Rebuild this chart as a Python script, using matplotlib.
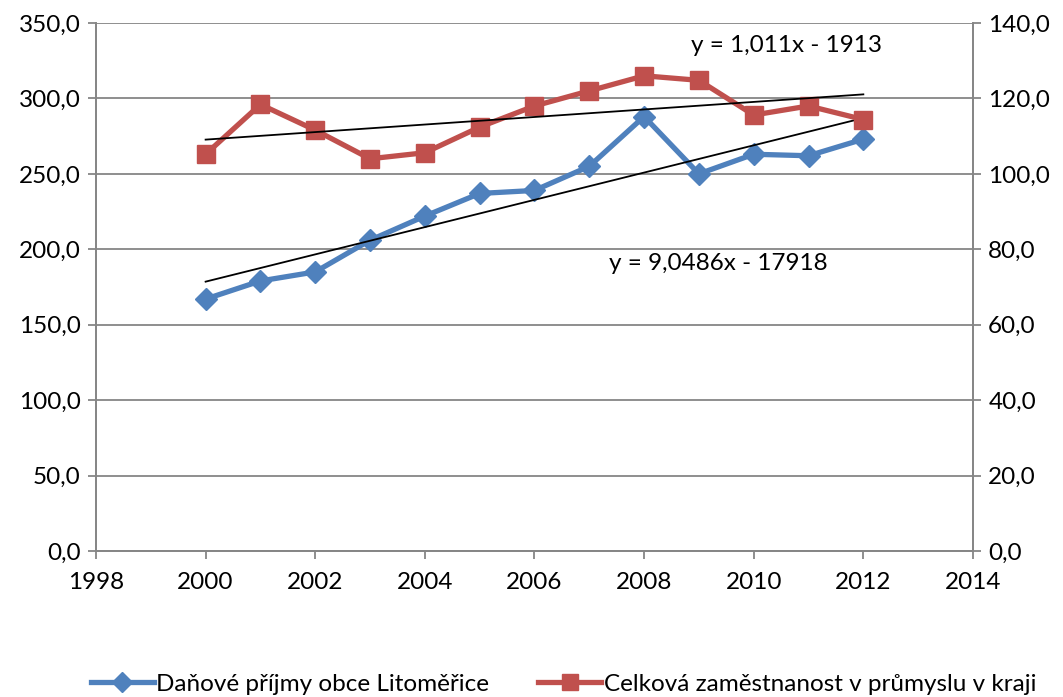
import numpy as np
import matplotlib.pyplot as plt
from matplotlib.ticker import FuncFormatter

roky = [2000, 2001, 2002, 2003, 2004, 2005, 2006, 2007, 2008, 2009, 2010, 2011, 2012]
# Daňové příjmy (levá osa)
prijmy = [167, 179, 185, 206, 222, 237, 239, 255, 288, 250, 263, 262, 273]
# Zaměstnanost (pravá osa)
zamestnanost = [105.2, 118.4, 111.6, 104.0, 105.6, 112.4, 118.0, 122.0, 126.0, 124.8, 115.6, 118.0, 114.4]

nazev_1 = 'Daňové příjmy obce Litoměřice'
nazev_2 = 'Celková zaměstnanost v průmyslu v kraji'
rovnice_1 = 'y = 9,0486x - 17918'
rovnice_2 = 'y = 1,011x - 1913'

plt.rcParams['font.family'] = ['Lato', 'DejaVu Sans']
modra = '#4F81BD'
cervena = '#C0504D'
seda = '#868686'
vel = 17.5

fig = plt.figure(figsize=(10.63, 6.97), dpi=100)
ax = fig.add_axes([0.0903, 0.2095, 0.825, 0.7575])
ax2 = ax.twinx()

carka = FuncFormatter(lambda v, p: f'{v:.1f}'.replace('.', ','))

ax.plot(roky, prijmy, color=modra, lw=3.8, marker='D', ms=11, label=nazev_1, zorder=3)
ax2.plot(roky, zamestnanost, color=cervena, lw=3.8, marker='s', ms=13, label=nazev_2, zorder=3)

# lineární trendy
x = np.array(roky)
k1 = np.polyfit(x, prijmy, 1)
k2 = np.polyfit(x, zamestnanost, 1)
ax.plot(x[[0, -1]], np.polyval(k1, x[[0, -1]]), color='black', lw=1.3, zorder=4)
ax2.plot(x[[0, -1]], np.polyval(k2, x[[0, -1]]), color='black', lw=1.3, zorder=4)

ax.set_xlim(1998, 2014)
ax.set_ylim(0, 350)
ax2.set_ylim(0, 140)
ax.set_xticks(range(1998, 2015, 2))
ax.set_yticks(range(0, 351, 50))
ax2.set_yticks(range(0, 141, 20))
ax.yaxis.set_major_formatter(carka)
ax2.yaxis.set_major_formatter(carka)

ax.grid(axis='y', color=seda, lw=1.3)
ax.set_axisbelow(True)
for a in (ax, ax2):
    a.spines['top'].set_visible(False)
    for s in ('left', 'right', 'bottom'):
        a.spines[s].set_color(seda)
        a.spines[s].set_linewidth(1.3)
    a.tick_params(colors=seda, labelcolor='black', labelsize=vel, length=6, width=1.3)
ax.tick_params(axis='x', pad=9)
ax.tick_params(axis='y', pad=5)
ax2.tick_params(axis='y', pad=5)

fig.text(0.740, 0.935, rovnice_2, ha='center', va='center', fontsize=vel)
fig.text(0.676, 0.622, rovnice_1, ha='center', va='center', fontsize=vel)

h1, l1 = ax.get_legend_handles_labels()
h2, l2 = ax2.get_legend_handles_labels()
fig.legend(h1 + h2, l1 + l2, loc='center', bbox_to_anchor=(0.53, 0.018), ncol=2,
           frameon=False, fontsize=vel, handlelength=2.6, handletextpad=0.1,
           columnspacing=2.0, markerscale=0.9, borderpad=0)

plt.savefig('out.png', dpi=100)
